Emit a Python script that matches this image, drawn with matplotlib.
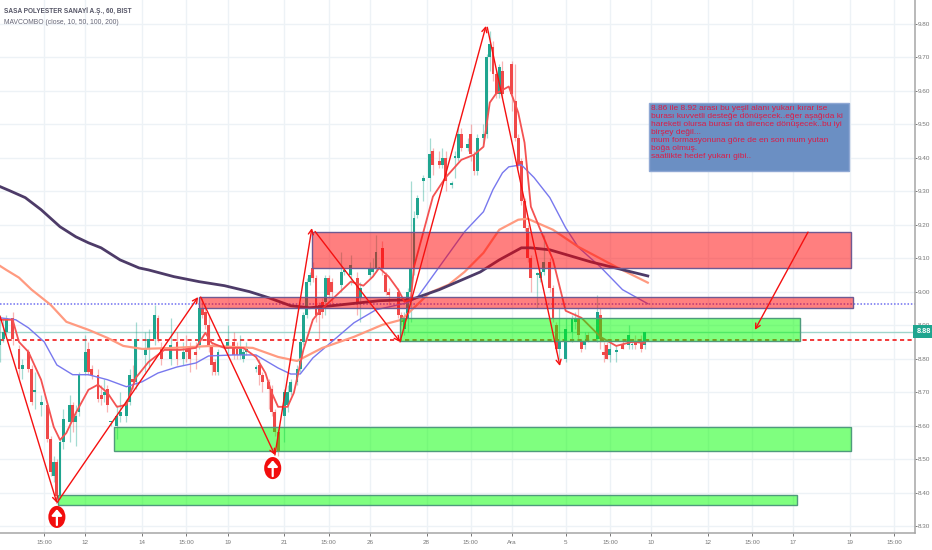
import matplotlib
matplotlib.use('Agg')
import matplotlib.pyplot as plt
from matplotlib.patches import Rectangle, Ellipse
from matplotlib.transforms import blended_transform_factory

# candles, 60 min bars
bar_idx = [0, 1, 2, 4, 6, 7, 9, 10, 11, 13, 15, 16, 17, 18, 19, 20, 22, 23, 24, 25,
           27, 28, 29, 31, 32, 33, 34, 35, 37, 38, 40, 41, 42, 43, 46, 47, 49, 50, 51, 54,
           56, 58, 59, 60, 62, 63, 64, 65, 66, 67, 68, 69, 72, 74, 75, 76, 77, 78, 81, 82,
           83, 85, 86, 87, 88, 90, 91, 92, 94, 95, 96, 97, 98, 99, 100, 101, 102, 103, 104, 105,
           108, 109, 111, 113, 114, 117, 118, 119, 121, 122, 123, 126, 127, 128, 129, 130, 131, 132, 134, 136,
           137, 139, 140, 141, 143, 144, 145, 146, 148, 149, 150, 151, 153, 154, 155, 156, 157, 158, 159, 162,
           163, 164, 165, 166, 167, 168, 170, 171, 172, 174, 175, 176, 177, 179, 181, 182, 183, 184, 185, 186,
           189, 190, 191, 192, 193, 195, 197, 199, 200, 201, 203, 204]
opens = [8.84, 8.86, 8.88, 8.92, 8.83, 8.77, 8.82, 8.77, 8.70, 8.66, 8.66, 8.56, 8.45, 8.49, 8.39, 8.55, 8.61, 8.66, 8.61, 8.64,
         8.76, 8.83, 8.77, 8.75, 8.69, 8.69, 8.71, 8.61, 8.60, 8.63, 8.63, 8.67, 8.74, 8.73, 8.81, 8.83, 8.86, 8.92, 8.83, 8.80,
         8.85, 8.80, 8.83, 8.83, 8.82, 8.84, 8.95, 8.94, 8.90, 8.84, 8.79, 8.76, 8.83, 8.85, 8.83, 8.81, 8.80, 8.82, 8.77, 8.78,
         8.75, 8.73, 8.71, 8.64, 8.58, 8.63, 8.66, 8.70, 8.73, 8.77, 8.85, 8.93, 9.03, 9.07, 9.04, 8.96, 8.97, 8.97, 9.04, 9.03,
         9.02, 9.06, 9.05, 9.04, 8.98, 9.05, 9.06, 9.07, 9.13, 9.05, 9.00, 9.00, 8.93, 8.89, 8.92, 9.00, 9.07, 9.23, 9.33, 9.34,
         9.42, 9.39, 9.38, 9.40, 9.32, 9.40, 9.40, 9.47, 9.43, 9.47, 9.41, 9.36, 9.46, 9.47, 9.70, 9.73, 9.65, 9.59, 9.66, 9.68,
         9.57, 9.46, 9.39, 9.27, 9.19, 9.10, 9.05, 9.04, 9.06, 9.09, 9.01, 8.90, 8.83, 8.80, 8.88, 8.91, 8.92, 8.85, 8.84, 8.87,
         8.86, 8.93, 8.82, 8.84, 8.81, 8.82, 8.84, 8.84, 8.84, 8.85, 8.85, 8.84]
highs = [8.93, 8.92, 8.93, 8.94, 8.84, 8.80, 8.83, 8.78, 8.76, 8.69, 8.67, 8.57, 8.51, 8.50, 8.56, 8.65, 8.69, 8.67, 8.66, 8.76,
         8.87, 8.85, 8.78, 8.77, 8.72, 8.74, 8.72, 8.61, 8.66, 8.70, 8.68, 8.77, 8.78, 8.91, 8.88, 8.89, 8.96, 8.93, 8.85, 8.92,
         8.88, 8.85, 8.87, 8.85, 8.85, 8.96, 8.98, 8.96, 8.93, 8.85, 8.80, 8.83, 8.90, 8.88, 8.85, 8.87, 8.83, 8.85, 8.78, 8.80,
         8.76, 8.74, 8.72, 8.65, 8.59, 8.71, 8.72, 8.74, 8.78, 8.86, 8.94, 9.04, 9.06, 9.09, 9.05, 8.97, 8.98, 9.05, 9.05, 9.04,
         9.12, 9.07, 9.11, 9.06, 9.03, 9.09, 9.10, 9.17, 9.15, 9.06, 9.01, 9.01, 8.94, 8.94, 9.01, 9.33, 9.24, 9.29, 9.35, 9.46,
         9.43, 9.42, 9.43, 9.42, 9.33, 9.42, 9.50, 9.49, 9.46, 9.50, 9.42, 9.47, 9.50, 9.71, 9.78, 9.75, 9.66, 9.68, 9.69, 9.69,
         9.68, 9.47, 9.40, 9.28, 9.20, 9.11, 9.06, 9.07, 9.17, 9.10, 9.02, 8.91, 8.95, 8.92, 8.93, 8.94, 8.95, 8.86, 8.88, 8.88,
         8.99, 8.95, 8.85, 8.85, 8.85, 8.84, 8.86, 8.90, 8.86, 8.87, 8.87, 8.88]
lows = [8.79, 8.85, 8.87, 8.84, 8.74, 8.74, 8.76, 8.66, 8.65, 8.63, 8.55, 8.45, 8.43, 8.38, 8.38, 8.53, 8.55, 8.58, 8.54, 8.63,
        8.75, 8.75, 8.74, 8.67, 8.66, 8.67, 8.64, 8.60, 8.56, 8.61, 8.61, 8.66, 8.71, 8.71, 8.76, 8.77, 8.84, 8.85, 8.78, 8.78,
        8.78, 8.78, 8.79, 8.76, 8.77, 8.83, 8.92, 8.89, 8.82, 8.75, 8.75, 8.75, 8.81, 8.80, 8.80, 8.80, 8.79, 8.81, 8.76, 8.72,
        8.70, 8.65, 8.63, 8.57, 8.51, 8.55, 8.64, 8.69, 8.72, 8.76, 8.84, 8.92, 9.02, 9.03, 8.91, 8.86, 8.92, 8.93, 8.98, 8.96,
        9.00, 9.05, 9.02, 8.93, 8.91, 9.04, 9.05, 9.06, 9.05, 8.99, 8.96, 8.92, 8.90, 8.87, 8.88, 8.91, 9.05, 9.22, 9.27, 9.30,
        9.35, 9.37, 9.37, 9.30, 9.31, 9.34, 9.39, 9.42, 9.42, 9.39, 9.35, 9.35, 9.44, 9.46, 9.66, 9.63, 9.58, 9.58, 9.58, 9.54,
        9.45, 9.37, 9.26, 9.18, 9.09, 9.00, 8.95, 9.03, 9.05, 9.00, 8.91, 8.82, 8.80, 8.79, 8.85, 8.89, 8.86, 8.82, 8.83, 8.85,
        8.85, 8.83, 8.79, 8.80, 8.79, 8.79, 8.83, 8.83, 8.83, 8.83, 8.82, 8.83]
closes = [8.86, 8.88, 8.92, 8.86, 8.77, 8.78, 8.77, 8.67, 8.70, 8.67, 8.56, 8.46, 8.49, 8.39, 8.55, 8.62, 8.66, 8.61, 8.63, 8.75,
          8.82, 8.76, 8.75, 8.68, 8.68, 8.70, 8.66, 8.61, 8.63, 8.64, 8.67, 8.75, 8.73, 8.86, 8.83, 8.86, 8.93, 8.86, 8.80, 8.84,
          8.80, 8.82, 8.82, 8.80, 8.81, 8.95, 8.93, 8.90, 8.84, 8.78, 8.76, 8.82, 8.85, 8.81, 8.81, 8.83, 8.82, 8.83, 8.77, 8.75,
          8.73, 8.71, 8.64, 8.58, 8.52, 8.70, 8.70, 8.73, 8.77, 8.85, 8.93, 9.03, 9.05, 9.04, 8.93, 8.93, 8.94, 9.04, 8.99, 9.00,
          9.06, 9.06, 9.08, 8.97, 9.01, 9.07, 9.07, 9.12, 9.07, 9.00, 8.99, 8.93, 8.91, 8.92, 9.00, 9.07, 9.22, 9.28, 9.34, 9.41,
          9.38, 9.38, 9.40, 9.33, 9.32, 9.40, 9.47, 9.43, 9.44, 9.41, 9.36, 9.46, 9.47, 9.70, 9.74, 9.65, 9.59, 9.67, 9.59, 9.59,
          9.46, 9.38, 9.27, 9.19, 9.10, 9.04, 9.05, 9.06, 9.09, 9.01, 8.92, 8.83, 8.85, 8.89, 8.92, 8.92, 8.87, 8.83, 8.85, 8.86,
          8.94, 8.86, 8.81, 8.80, 8.83, 8.82, 8.83, 8.87, 8.84, 8.84, 8.83, 8.88]

# moving averages
ma10_x = [0, 4, 6, 9, 13, 17, 19, 21, 24, 28, 31, 34, 37, 40, 43, 47, 52, 57, 62, 65, 67, 71, 77, 81, 84, 86, 88, 91, 93, 96,
          99, 101, 105, 111, 115, 118, 120, 123, 126, 128, 130, 131, 137, 141, 146, 150, 153, 155, 157, 161, 164, 166, 168, 171, 175, 179, 184, 190, 195, 200, 204]
ma10_y = [8.916, 8.916, 8.850, 8.820, 8.737, 8.596, 8.557, 8.578, 8.638, 8.707, 8.722, 8.698, 8.656, 8.662, 8.743, 8.790, 8.826, 8.826, 8.832, 8.877,
          8.847, 8.832, 8.832, 8.805, 8.757, 8.698, 8.656, 8.656, 8.698, 8.826, 8.916, 8.940, 8.976, 9.030, 9.018, 9.045, 9.071, 9.045, 9.006, 8.970,
          8.976, 9.074, 9.284, 9.341, 9.394, 9.409, 9.433, 9.565, 9.592, 9.613, 9.535, 9.445, 9.254, 9.185, 9.095, 8.943, 8.922, 8.865, 8.838, 8.850, 8.847]
ma50_x = [0, 5, 9, 14, 18, 23, 28, 34, 40, 45, 50, 56, 62, 66, 74, 81, 88, 92, 95, 99, 112, 119, 129, 132, 139, 147, 153, 156, 159, 161, 165, 169, 174, 179, 183, 190, 197, 205]
ma50_y = [8.922, 8.916, 8.892, 8.850, 8.781, 8.752, 8.752, 8.737, 8.716, 8.731, 8.757, 8.775, 8.787, 8.808, 8.811, 8.811, 8.772, 8.754, 8.754, 8.802,
          8.907, 8.946, 8.967, 8.982, 9.074, 9.179, 9.239, 9.305, 9.355, 9.373, 9.379, 9.341, 9.281, 9.191, 9.133, 9.074, 9.006, 8.964]
ma100_x = [0, 2, 6, 10, 16, 21, 28, 34, 39, 45, 55, 67, 80, 88, 94, 102, 112, 121, 127, 136, 142, 147, 153, 158, 164, 167, 175, 183, 195, 205]
ma100_y = [9.077, 9.065, 9.042, 9.006, 8.961, 8.910, 8.886, 8.862, 8.838, 8.829, 8.832, 8.838, 8.832, 8.805, 8.793, 8.832, 8.865, 8.901, 8.916, 8.997,
           9.021, 9.059, 9.116, 9.185, 9.215, 9.218, 9.185, 9.134, 9.074, 9.027]
ma200_x = [0, 3, 8, 13, 19, 24, 28, 32, 38, 44, 47, 55, 63, 71, 79, 85, 92, 98, 105, 120, 130, 139, 152, 158, 165, 168, 174, 187, 196, 205]
ma200_y = [9.314, 9.302, 9.281, 9.245, 9.194, 9.164, 9.146, 9.131, 9.095, 9.071, 9.065, 9.045, 9.030, 9.018, 9.000, 8.982, 8.958, 8.952, 8.958, 8.973,
           8.976, 9.006, 9.059, 9.095, 9.131, 9.131, 9.125, 9.089, 9.068, 9.047]

# drawn zones: x0, x1, low, high
red_zones = [(98.7, 269.3, 9.071, 9.178), (63.0, 270.0, 8.951, 8.984)]
green_zones = [(126.6, 253.2, 8.853, 8.921), (36.0, 269.3, 8.524, 8.596), (18.4, 252.2, 8.363, 8.393)]

# drawn arrows
arrow_x0 = [0, 18, 63.5, 87, 99.7, 126.6, 154.2, 255.7]
arrow_y0 = [8.927, 8.369, 8.984, 8.512, 9.180, 8.850, 9.790, 9.178]
arrow_x1 = [18, 62.7, 87, 98.7, 126.6, 153.8, 177.2, 238.9]
arrow_y1 = [8.369, 8.984, 8.512, 9.190, 8.850, 9.794, 8.778, 8.886]

# up markers
marker_x = [18.0, 86.3]
marker_y = [8.327, 8.473]

last_price = 8.88
red_level = 8.856
blue_level = 8.964

y_ticks = [8.3, 8.4, 8.5, 8.6, 8.7, 8.8, 8.9, 9.0, 9.1, 9.2, 9.3, 9.4, 9.5, 9.6, 9.7, 9.8]
x_ticks = [14, 27, 45, 59, 72, 90, 104, 117, 135, 149, 162, 179, 193, 206, 224, 238, 251, 269, 283]
x_labels = ['15:00', '12', '14', '15:00', '19', '21', '15:00', '26', '28', '15:00', 'Ara', '5', '15:00', '10', '12', '15:00', '17', '19', '15:00']

note = ('8.86 ile 8.92 arası bu yeşil alanı yukarı kırar ise\n'
        'burası kuvvetli desteğe dönüşecek..eğer aşağıda ki\n'
        'hareketi olursa burası da dirence dönüşecek..bu iyi\n'
        'birşey değil...\n'
        'mum formasyonuna göre de en son mum yutan\n'
        'boğa olmuş.\n'
        'saatlikte hedef yukarı gibi..')

GREEN = '#1fa58f'
RED = '#f04848'

plt.rcParams['font.family'] = ['Liberation Sans', 'DejaVu Sans']

fig = plt.figure(figsize=(9.32, 5.5), dpi=100)
ax = fig.add_axes([0, 17 / 550, 915 / 932, 533 / 550])
ax.set_xlim(0, 289.56)
ax.set_ylim(8.279, 9.8715)

ax.set_yticks(y_ticks)
ax.set_yticklabels([f'{v:.2f}' for v in y_ticks])
ax.set_xticks(x_ticks)
ax.set_xticklabels(x_labels)
ax.yaxis.tick_right()
ax.tick_params(axis='y', labelsize=4.6, colors='#777777', length=1.5, width=0.7, pad=0.5)
ax.tick_params(axis='x', labelsize=4.5, colors='#777777', length=2, width=0.7, pad=3)
ax.grid(True, color='#edf2f6', linewidth=1.0)
ax.set_axisbelow(True)
for side in ['top', 'left']:
    ax.spines[side].set_visible(False)
for side in ['right', 'bottom']:
    ax.spines[side].set_color('#a6a6a6')
    ax.spines[side].set_linewidth(1.1)

# price levels
ax.axhline(last_price, color='#9fd5cc', lw=1.0, zorder=2)
ax.axhline(blue_level, color='#6f6ff0', lw=1.1, ls=(0, (1, 1.2)), zorder=2)
ax.axhline(red_level, color='#f01818', lw=1.2, ls=(0, (2.5, 2)), zorder=2)

# candles
for x, o, h, l, c in zip(bar_idx, opens, highs, lows, closes):
    col = GREEN if c >= o else RED
    ax.vlines(x, l, h, color=col, lw=0.9, alpha=0.4, zorder=3)
    ax.bar(x, max(abs(c - o), 0.005), bottom=min(o, c), width=0.92, color=col, lw=0, zorder=3)

# moving averages
ax.plot(ma50_x, ma50_y, color='#7878ee', lw=1.0, zorder=4)
ax.plot(ma100_x, ma100_y, color='#ff9a80', lw=1.6, zorder=4)
ax.plot(ma200_x, ma200_y, color='#4d3b68', lw=2.0, zorder=4)
ax.plot(ma10_x, ma10_y, color='#f45252', lw=1.3, zorder=4)

# zones go over the candles
for x0, x1, lo, hi in red_zones:
    ax.add_patch(Rectangle((x0, lo), x1 - x0, hi - lo, facecolor=(1, 0, 0, 0.5), edgecolor='#6f5a92', lw=1.0, zorder=5))
for x0, x1, lo, hi in green_zones:
    ax.add_patch(Rectangle((x0, lo), x1 - x0, hi - lo, facecolor=(0, 1, 0, 0.5), edgecolor='#4f9a7c', lw=1.0, zorder=5))

# arrows
for x0, y0, x1, y1 in zip(arrow_x0, arrow_y0, arrow_x1, arrow_y1):
    ax.annotate('', xy=(x1, y1), xytext=(x0, y0), zorder=6,
                arrowprops=dict(arrowstyle='->,head_length=0.35,head_width=0.18', color='#f51010', lw=1.0,
                                shrinkA=0, shrinkB=0))

# up markers
for mx, my in zip(marker_x, marker_y):
    ax.add_patch(Ellipse((mx, my), 5.4, 0.066, facecolor='#f20d0d', edgecolor='none', zorder=7))
    ax.annotate('', xy=(mx, my + 0.023), xytext=(mx, my - 0.024), zorder=8,
                arrowprops=dict(arrowstyle='-|>,head_length=0.35,head_width=0.3', color='white', lw=1.6,
                                shrinkA=0, shrinkB=0))

# note box
ax.add_patch(Rectangle((205.4, 9.361), 63.3, 0.203, facecolor='#6b8fc3', edgecolor='#8fa8d4', lw=1.0, zorder=6))
ax.text(206.0, 9.558, note, color='#dc1c46', fontsize=6.0, va='top', ha='left', linespacing=1.19, zorder=7)

# header
ax.text(4 / 915, 1 - 11 / 533, 'SASA POLYESTER SANAYİ A.Ş., 60, BIST', transform=ax.transAxes,
        fontsize=4.7, color='#555566', fontweight='bold', va='center', ha='left')
ax.text(4 / 915, 1 - 22 / 533, 'MAVCOMBO (close, 10, 50, 100, 200)', transform=ax.transAxes,
        fontsize=4.9, color='#666677', va='center', ha='left')

# last price tag
trans = blended_transform_factory(ax.transAxes, ax.transData)
ax.text(1.0 + 8.5 / 915, last_price, f'{last_price:.2f}', transform=trans, fontsize=5.2, color='white',
        fontweight='bold', va='center', ha='center', clip_on=False, zorder=9,
        bbox=dict(boxstyle='square,pad=0.4', facecolor=GREEN, edgecolor='none'))

fig.savefig('out.png', dpi=100)
